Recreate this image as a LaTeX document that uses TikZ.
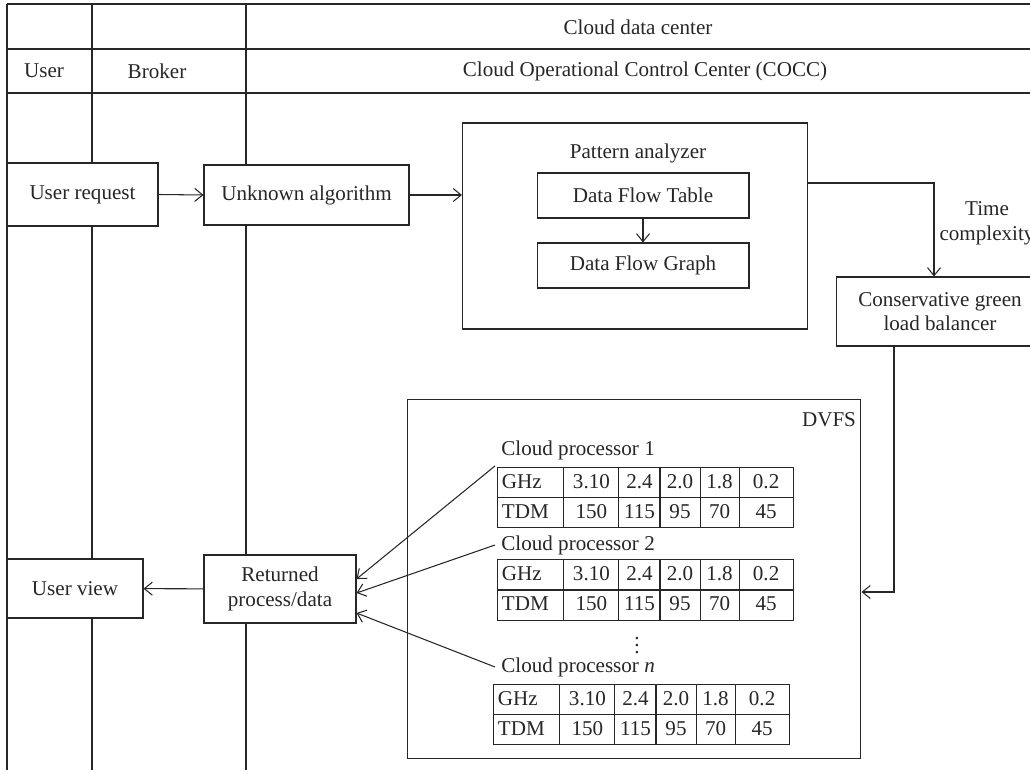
\documentclass[tikz,border=0pt]{standalone}
\usepackage{fontspec}
\setmainfont{Liberation Serif}
\usepackage{array}
\usetikzlibrary{arrows.meta}

\definecolor{ink}{RGB}{40,38,38}
\setlength{\tabcolsep}{0pt}
\setlength{\arrayrulewidth}{0.6pt}
\renewcommand{\arraystretch}{1.18}
\newcommand{\freqtable}{%
\begin{tabular}{|w{l}{1.3cm}|w{c}{1.08cm}|w{c}{0.8cm}|w{c}{0.78cm}|w{c}{0.76cm}|w{c}{1.06cm}|}
\hline
\,GHz & 3.10 & 2.4 & 2.0 & 1.8 & 0.2\\ \hline
\,TDM & 150 & 115 & 95 & 70 & 45\\ \hline
\end{tabular}}

\tikzset{
  box/.style={draw=ink, fill=white, inner sep=0pt, align=center},
  conn/.style={draw=ink, -{Straight Barb[length=1.6mm,width=2.6mm]}},
}

\begin{document}
\begin{tikzpicture}[x=0.02cm, y=-0.02cm, line width=0.6pt, font=\fontsize{12}{14}\selectfont, text=ink]
\useasboundingbox (0,0) rectangle (1030,773);
\clip (0,0) rectangle (1030,773);

% lanes and header
\draw[ink] (7,4) -- (1040,4);
\draw[ink] (7,49) -- (1040,49);
\draw[ink] (7,93) -- (1040,93);
\draw[ink] (7,4) -- (7,770);
\draw[ink] (92,4) -- (92,770);
\draw[ink] (246,4) -- (246,770);

\node (cdc) at (638,27) {Cloud data center};
\node (user) at (44,71) {User};
\node (broker) at (157,71) {Broker};
\node (cocc) at (645,71) {Cloud Operational Control Center (COCC)};

% request path
\node[box, minimum width=3.02cm, minimum height=1.26cm] (ureq) at (82.5,194.5) {User request};
\node[box, minimum width=4.1cm, minimum height=1.2cm] (unk) at (306.5,195) {Unknown algorithm};

\node[box, minimum width=6.9cm, minimum height=4.12cm] (pat) at (635,226) {};
\node (patlbl) at (638,153) {Pattern analyzer};
\node[box, minimum width=4.24cm, minimum height=0.9cm] (dft) at (643,195.5) {Data Flow Table};
\node[box, minimum width=4.24cm, minimum height=0.9cm] (dfg) at (643,265.5) {Data Flow Graph};

\node[align=center] (tc) at (987,223) {Time\\complexity};
\node[box, minimum width=4.16cm, minimum height=1.38cm] (bal) at (940,311.5) {Conservative green\\load balancer};

% DVFS block
\node[box, minimum width=9.08cm, minimum height=7.2cm] (dvfs) at (634,579) {};
\node (dvfslbl) at (829,420) {DVFS};

\node[anchor=west] (p1) at (495,450) {Cloud processor 1};
\node[inner sep=0pt] (t1) at (645.5,497.5) {\freqtable};
\node[anchor=west] (p2) at (495,545) {Cloud processor 2};
\node[inner sep=0pt] (t2) at (645.5,590) {\freqtable};
\node (dots) at (637,640) {$\vdots$};
\node[anchor=west] (pn) at (495,667) {Cloud processor \textit{n}};
\node[inner sep=0pt] (tn) at (641.5,714.5) {\freqtable};

% return path
\node[box, minimum width=3.04cm, minimum height=1.36cm] (ret) at (280,589) {Returned\\process/data};
\node[box, minimum width=2.72cm, minimum height=1.18cm] (uview) at (75,588.5) {User view};

\draw[conn] (ureq.east) -- (unk.west);
\draw[conn] (unk.east) -- (unk.east -| pat.west);
\draw[conn] (dft) -- (dfg);
\draw[conn] ([yshift=0.86cm]pat.east) -| ([xshift=-0.12cm]bal.north);
\draw[conn] ([xshift=-0.92cm]bal.south) |- ([yshift=-0.26cm]dvfs.east);
\draw[conn] (p1.south west) -- ([yshift=0.2cm]ret.east);
\draw[conn] (p2.west) -- ([yshift=-0.08cm]ret.east);
\draw[conn] (pn.west) -- ([yshift=-0.48cm]ret.east);
\draw[conn] (ret) -- (uview);

\end{tikzpicture}
\end{document}
